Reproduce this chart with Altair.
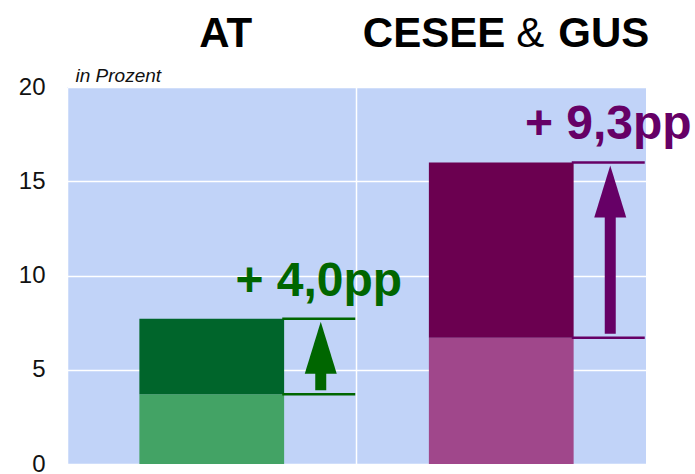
import altair as alt
import pandas as pd

# Share of the loan book, before and after (in percent)
regions = ["AT", "CESEE & GUS"]
before = [3.7, 6.7]
after = [7.7, 16.0]

light = ["#43A365", "#A0478B"]
dark = ["#00652B", "#6B0050"]
accent = ["#006600", "#660066"]

delta = [round(a - b, 1) for a, b in zip(after, before)]
labels = ["+ " + f"{d:.1f}".replace(".", ",") + "pp" for d in delta]

df = pd.DataFrame({"region": regions, "before": before, "after": after, "label": labels})

W, H = 579, 377
FONT = "Liberation Sans"
SIDE = 109          # arrow column, px right of the bar centre
LINE_OFF = 107      # centre of the bracket lines, px right of the bar centre
LABEL_OFF = 107     # centre of the change labels, px right of the bar centre

x_enc = alt.X(
    "region:N",
    sort=regions,
    scale=alt.Scale(domain=regions, paddingInner=0, paddingOuter=0),
    axis=alt.Axis(title=None, labels=False, ticks=False, domain=False, grid=True,
                  bandPosition=0, gridColor="white", gridWidth=1.5, gridOpacity=1),
)

y_axis = alt.Axis(
    values=[0, 5, 10, 15, 20], title="in Prozent", titleAngle=0, titleAlign="left",
    titleBaseline="alphabetic", titleX=8, titleY=-6, titleFont=FONT, titleFontSize=19,
    titleFontStyle="italic", titleFontWeight="normal", titleColor="#111",
    labelFont=FONT, labelFontSize=24, labelColor="#111", labelPadding=22,
    grid=True, gridColor="white", gridWidth=1.5, gridOpacity=1, domain=False, ticks=False,
)
y_scale = alt.Scale(domain=[0, 20], nice=False, zero=True)


def y(field):
    return alt.Y(f"{field}:Q", scale=y_scale, axis=y_axis)


def colour(rng):
    return alt.Color("region:N", scale=alt.Scale(domain=regions, range=rng), legend=None)


base = alt.Chart(df)

lower = base.mark_bar(width=alt.RelativeBandSize(0.5)).encode(
    x=x_enc, y=y("before"), color=colour(light))

upper = base.mark_bar(width=alt.RelativeBandSize(0.5)).encode(
    x=x_enc, y=y("before"), y2="after:Q", color=colour(dark))

line_lo = base.mark_tick(size=73, thickness=2.5, xOffset=LINE_OFF, opacity=1).encode(
    x=x_enc, y=y("before"), color=colour(accent))
line_hi = base.mark_tick(size=73, thickness=2.5, xOffset=LINE_OFF, opacity=1).encode(
    x=x_enc, y=y("after"), color=colour(accent))

shaft = base.mark_rule(strokeWidth=11, xOffset=SIDE, yOffset=-4, y2Offset=54).encode(
    x=x_enc, y=y("before"), y2="after:Q", color=colour(accent))

head = base.mark_point(
    shape="M0,-1L0.615,1L-0.615,1Z", size=2704, filled=True, opacity=1,
    xOffset=SIDE, yOffset=29,
).encode(x=x_enc, y=y("after"), color=colour(accent))

label = base.mark_text(
    font=FONT, fontSize=48, fontWeight="bold", align="center", baseline="alphabetic",
    xOffset=LABEL_OFF, dy=-23,
).encode(x=x_enc, y=y("after"), text="label:N", color=colour(accent))


def header(region, text, weight, align, dx):
    return base.transform_filter(alt.datum.region == region).mark_text(
        font=FONT, fontSize=42, fontWeight=weight, align=align, baseline="alphabetic",
        color="black", dx=dx,
    ).encode(x=x_enc, y=alt.value(-40), text=alt.value(text))


left_part, right_part = regions[1].split(" & ")
headers = [
    header(regions[0], regions[0], "bold", "center", 14),
    header(regions[1], left_part, "bold", "right", 4),
    header(regions[1], "&", "normal", "center", 29),
    header(regions[1], right_part, "bold", "left", 57),
]

chart = alt.layer(
    lower, upper, line_lo, line_hi, shaft, head, label, *headers
).resolve_scale(
    color="independent"
).properties(
    width=W, height=H,
    autosize=alt.AutoSizeParams(type="none"),
    padding={"left": 67, "top": 87, "right": 49, "bottom": 10},
    background="white",
).configure_view(fill="#C1D3F8", stroke=None)

chart.save("out.html", embed_options={"renderer": "svg", "actions": False})
